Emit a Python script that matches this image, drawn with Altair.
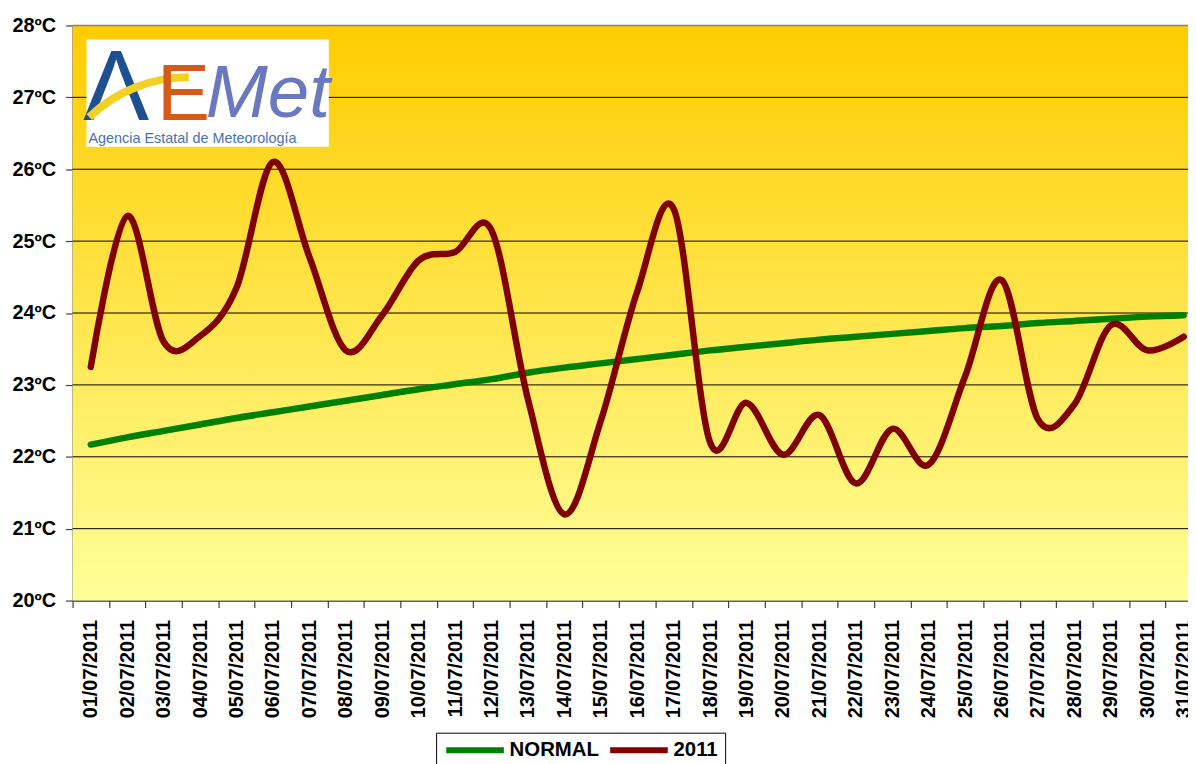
import altair as alt
import pandas as pd

dates = ["01/07/2011", "02/07/2011", "03/07/2011", "04/07/2011", "05/07/2011",
         "06/07/2011", "07/07/2011", "08/07/2011", "09/07/2011", "10/07/2011",
         "11/07/2011", "12/07/2011", "13/07/2011", "14/07/2011", "15/07/2011",
         "16/07/2011", "17/07/2011", "18/07/2011", "19/07/2011", "20/07/2011",
         "21/07/2011", "22/07/2011", "23/07/2011", "24/07/2011", "25/07/2011",
         "26/07/2011", "27/07/2011", "28/07/2011", "29/07/2011", "30/07/2011",
         "31/07/2011"]

normal = [22.17, 22.27, 22.36, 22.45, 22.54, 22.62, 22.70, 22.78, 22.86, 22.94,
          23.01, 23.08, 23.17, 23.24, 23.30, 23.36, 23.42, 23.48, 23.53, 23.58,
          23.63, 23.67, 23.71, 23.75, 23.79, 23.82, 23.86, 23.89, 23.92, 23.95,
          23.97]

temps_2011 = [23.25, 25.35, 23.60, 23.68, 24.35, 26.10, 24.78, 23.48, 23.97, 24.73,
              24.85, 25.15, 22.80, 21.20, 22.50, 24.30, 25.45, 22.20, 22.75, 22.03,
              22.58, 21.63, 22.39, 21.89, 23.12, 24.46, 22.52, 22.73, 23.83, 23.48,
              23.67]

series_names = ["NORMAL", "2011"]
series_colors = ["#008000", "#800000"]
y_ticks = [20, 21, 22, 23, 24, 25, 26, 27, 28]

rows = []
for d, n, t in zip(dates, normal, temps_2011):
    rows.append({"fecha": d, "serie": "NORMAL", "temp": n})
    rows.append({"fecha": d, "serie": "2011", "temp": t})
df = pd.DataFrame(rows)
grid_df = pd.DataFrame({"temp": y_ticks[1:-1]})
top_df = pd.DataFrame({"temp": y_ticks[-1:]})
one = pd.DataFrame({"a": [0]})

W, H = 1123, 579          # visible plot area (reference is cut at the right edge)
X_RANGE = 1137            # full width of the 31 day bands
FONT = "Liberation Sans"

x_enc = alt.X(
    "fecha:N", sort=dates,
    scale=alt.Scale(type="band", paddingInner=0, paddingOuter=0, range=[0, X_RANGE]),
    axis=alt.Axis(title=None, labelAngle=-90, tickBand="extent", labelFontSize=20,
                  labelFont=FONT, labelFontWeight="bold", labelColor="black",
                  labelPadding=12, tickSize=7, tickColor="#404040", tickWidth=1.2,
                  domainColor="#303030", domainWidth=1.5, labelAlign="right",
                  labelBaseline="middle", grid=False, labelOverlap=False),
)
y_enc = alt.Y(
    "temp:Q",
    scale=alt.Scale(domain=[20, 28], nice=False, zero=False),
    axis=alt.Axis(title=None, values=y_ticks, labelExpr="datum.value + 'ºC'",
                  labelFontSize=20, labelFont=FONT, labelFontWeight="bold",
                  labelColor="black", labelPadding=10, tickSize=7, tickWidth=1.2,
                  tickColor="#404040", domainColor="#606060", domainWidth=1.5,
                  grid=False),
)
# legend symbol: a 58 px long line drawn from a small symbol box
color_enc = alt.Color(
    "serie:N",
    scale=alt.Scale(domain=series_names, range=series_colors),
    legend=alt.Legend(title=None, orient="none", legendX=366, legendY=712,
                      direction="horizontal", symbolType="M-1,0H7", symbolSize=210,
                      symbolStrokeWidth=6, symbolFillColor="transparent",
                      labelFontSize=20.5, labelFont=FONT,
                      labelFontWeight="bold", labelColor="black",
                      strokeColor="black", fillColor="white", padding=7,
                      columnPadding=-1, labelOffset=46),
)

bg = alt.Chart(one).mark_rect(
    fill=alt.Gradient(gradient="linear", x1=0, y1=0, x2=0, y2=1,
                      stops=[alt.GradientStop(color="#FFCC00", offset=0),
                             alt.GradientStop(color="#FFFF99", offset=1)])
).encode(x=alt.value(0), x2=alt.value(W), y=alt.value(0), y2=alt.value(H))

grid = alt.Chart(grid_df).mark_rule(color="black", strokeWidth=1).encode(y=y_enc)
top_line = alt.Chart(top_df).mark_rule(color="#808080", strokeWidth=1.5).encode(y=y_enc)

line_normal = alt.Chart(df).transform_filter(alt.datum.serie == "NORMAL").mark_line(
    strokeWidth=6.5, interpolate="cardinal", tension=0, strokeCap="round"
).encode(x=x_enc, y=y_enc, color=color_enc)

line_2011 = alt.Chart(df).transform_filter(alt.datum.serie == "2011").mark_line(
    strokeWidth=6.5, interpolate="cardinal", tension=0, strokeCap="round"
).encode(x=x_enc, y=y_enc, color=color_enc)

# AEMET logo (decoration)
logo_box = alt.Chart(one).mark_rect(fill="white").encode(
    x=alt.value(14), x2=alt.value(258), y=alt.value(14), y2=alt.value(122))
logo_a = alt.Chart(one).mark_text(text="Λ", font=FONT, fontSize=100, color="#1D4F91",
                                  align="center", baseline="alphabetic").encode(
    x=alt.value(44), y=alt.value(95))
logo_swoosh = alt.Chart(one).mark_arc(theta=5.52, theta2=6.283, radius=141, radius2=149,
                                      color="#F2D024").encode(
    x=alt.value(117), y=alt.value(197))
logo_e = alt.Chart(one).mark_text(text="E", font=FONT, fontSize=80, color="#D55B17",
                                  align="left", baseline="alphabetic").encode(
    x=alt.value(85), y=alt.value(95))
logo_met = alt.Chart(one).mark_text(text="Met", font=FONT, fontSize=75, fontStyle="italic",
                                    color="#6A78C0", align="left",
                                    baseline="alphabetic").encode(
    x=alt.value(134), y=alt.value(92))
logo_sub = alt.Chart(one).mark_text(text="Agencia Estatal de Meteorología", font=FONT,
                                    fontSize=14.5, color="#4A72AE", align="left",
                                    baseline="alphabetic").encode(
    x=alt.value(16), y=alt.value(118))

chart = alt.layer(
    bg, grid, top_line, line_normal, line_2011,
    logo_box, logo_a, logo_swoosh, logo_e, logo_met, logo_sub
).properties(
    width=W, height=H,
    autosize=alt.AutoSizeParams(type="none"),
    padding={"left": 65, "top": 15, "right": 0, "bottom": 170},
    background="white",
).configure_view(stroke=None)

chart.save("out.html", embed_options={"renderer": "svg", "actions": False})
